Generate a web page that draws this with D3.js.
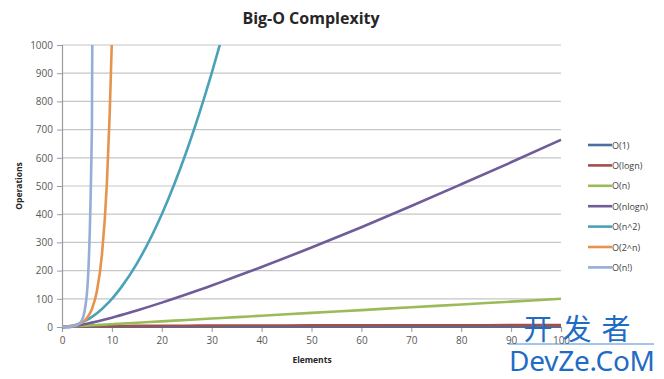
<!DOCTYPE html>
<html><head><meta charset="utf-8">
<script src="https://cdn.jsdelivr.net/npm/d3@7"></script>
<style>body{margin:0;background:#fff}svg{display:block}</style>
</head><body>
<svg id="c" width="664" height="379"></svg>
<script>
const elements = [0,1,2,3,4,5,6,7,8,9,10,11,12,15,20,25,30,32,35,40,50,60,70,80,90,100];
const o1      = [1,1,1,1,1,1,1,1,1,1,1,1,1,1,1,1,1,1,1,1,1,1,1,1,1,1];
const oLogn   = [0,0,1,1.58,2,2.32,2.58,2.81,3,3.17,3.32,3.46,3.58,3.91,4.32,4.64,4.91,5,5.13,5.32,5.64,5.91,6.13,6.32,6.49,6.64];
const oN      = [0,1,2,3,4,5,6,7,8,9,10,11,12,15,20,25,30,32,35,40,50,60,70,80,90,100];
const oNlogn  = [0,0,2,4.75,8,11.6,15.5,19.7,24,28.5,33.2,38.1,43,58.6,86.4,116,147,160,180,213,282,354,429,506,584,664];
const oN2     = [0,1,4,9,16,25,36,49,64,81,100,121,144,225,400,625,900,1024,1225,1600];
const o2n     = [1,2,4,8,16,32,64,128,256,512,1024,2048];
const oNfact  = [1,1,2,6,24,120,720,5040];
const seriesNames  = ["O(1)","O(logn)","O(n)","O(nlogn)","O(n^2)","O(2^n)","O(n!)"];
const seriesValues = [o1,oLogn,oN,oNlogn,oN2,o2n,oNfact];
const seriesColors = ["#4a6fa0","#a3504b","#9bbb59","#6f5c98","#4aa2b8","#e6944c","#95aed8"];
const yTicks = [0,100,200,300,400,500,600,700,800,900,1000];
const xTicks = [0,10,20,30,40,50,60,70,80,90,100];

const svg = d3.select("#c");
const m = {l:62, r:561, t:45, b:327};
const x = d3.scaleLinear().domain([0,100]).range([m.l,m.r]);
const y = d3.scaleLinear().domain([0,1000]).range([m.b,m.t]);
const font = "'Open Sans', 'Liberation Sans', sans-serif";

svg.append("text").attr("x",311).attr("y",24).attr("text-anchor","middle")
  .attr("font-family",font).attr("font-weight","bold").attr("font-size",16).attr("fill","#262626")
  .text("Big-O Complexity");

// gridlines
svg.append("g").selectAll("line").data(yTicks.slice(1)).join("line")
  .attr("x1",m.l).attr("x2",m.r).attr("y1",d=>y(d)).attr("y2",d=>y(d))
  .attr("stroke","#c6c6c6").attr("stroke-width",1.2);

// y axis
const ya = svg.append("g").attr("transform",`translate(${m.l},0)`)
  .call(d3.axisLeft(y).tickValues(yTicks).tickFormat(d3.format("d")).tickSize(5).tickPadding(4));
ya.select(".domain").attr("stroke","#9a9a9a").attr("stroke-width",1.2);
ya.selectAll(".tick line").attr("stroke","#9a9a9a");
ya.selectAll("text").attr("font-family",font).attr("font-size",10).attr("fill","#595959");

// x axis
const xa = svg.append("g").attr("transform",`translate(0,${m.b})`)
  .call(d3.axisBottom(x).tickValues(xTicks).tickFormat(d3.format("d")).tickSize(5).tickPadding(5));
xa.select(".domain").attr("stroke","#9a9a9a").attr("stroke-width",1.2);
xa.selectAll(".tick line").attr("stroke","#9a9a9a");
xa.selectAll("text").attr("font-family",font).attr("font-size",10).attr("fill","#595959");

svg.append("text").attr("x",312).attr("y",363).attr("text-anchor","middle")
  .attr("font-family",font).attr("font-weight","bold").attr("font-size",8.5).attr("fill","#262626")
  .text("Elements");
svg.append("text").attr("transform","translate(22,186) rotate(-90)").attr("text-anchor","middle")
  .attr("font-family",font).attr("font-weight","bold").attr("font-size",8.5).attr("fill","#262626")
  .text("Operations");

// clip
svg.append("clipPath").attr("id","pc").append("rect")
  .attr("x",m.l).attr("y",m.t).attr("width",m.r-m.l+2).attr("height",m.b-m.t+2);

const line = d3.line().x(d=>x(d[0])).y(d=>y(d[1])).curve(d3.curveMonotoneX);
const g = svg.append("g").attr("clip-path","url(#pc)");
seriesValues.forEach((vals,i)=>{
  const pts = vals.map((v,j)=>[elements[j],v]);
  g.append("path").datum(pts).attr("d",line).attr("fill","none")
   .attr("stroke",seriesColors[i]).attr("stroke-width",2.6).attr("stroke-linejoin","round");
});

// legend
const lg = svg.append("g");
seriesNames.forEach((n,i)=>{
  const yy = 145 + i*20.4;
  lg.append("line").attr("x1",588).attr("x2",612).attr("y1",yy).attr("y2",yy)
    .attr("stroke",seriesColors[i]).attr("stroke-width",2.6);
  lg.append("text").attr("x",612).attr("y",yy+3.5).attr("font-family",font)
    .attr("font-size",9).attr("fill","#404040").text(n);
});

// watermark
const wm = svg.append("g").attr("fill","#1f6cc4").attr("font-family","'Noto Sans CJK SC', sans-serif");
wm.append("text").attr("x",582).attr("y",340).attr("text-anchor","middle").attr("font-size",29)
  .attr("letter-spacing",10).text("开发者");
wm.append("line").attr("x1",508).attr("x2",654).attr("y1",344).attr("y2",344)
  .attr("stroke","#1f6cc4").attr("stroke-width",0.8);
wm.append("text").attr("x",582).attr("y",371).attr("text-anchor","middle").attr("font-size",28)
  .attr("font-family","'Noto Sans', sans-serif").attr("textLength",146).text("DevZe.CoM");
</script>
</body></html>
